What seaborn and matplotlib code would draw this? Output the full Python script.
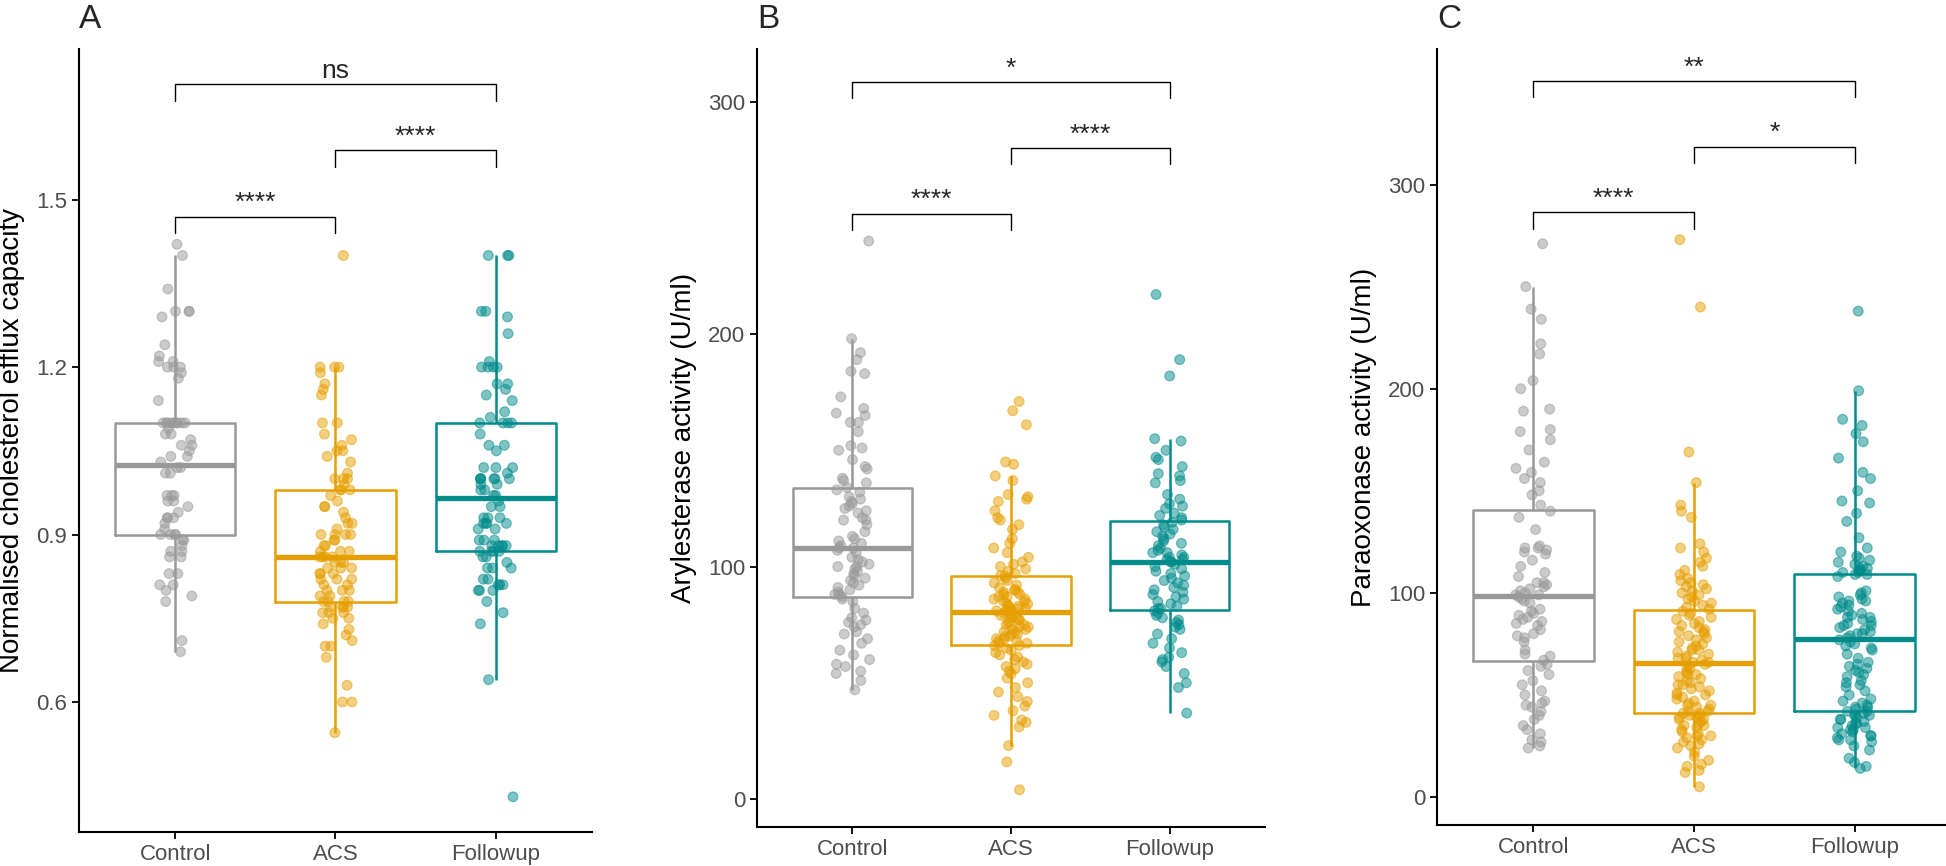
import numpy as np
import pandas as pd
import matplotlib
matplotlib.use('Agg')
import matplotlib.pyplot as plt
import seaborn as sns

# groups and colours
groups = ['Control', 'ACS', 'Followup']
palette = {'Control': '#999999', 'ACS': '#E69F00', 'Followup': '#008B8B'}

# Panel A - normalised cholesterol efflux capacity
efflux_control = [1.42, 1.40, 1.34, 1.30, 1.30, 1.30, 1.29, 1.24, 1.22, 1.21, 1.21, 1.20, 1.20, 1.20,
                  1.19, 1.18, 1.14, 1.10, 1.10, 1.10, 1.10, 1.10, 1.10, 1.10, 1.10, 1.10, 1.09, 1.08,
                  1.08, 1.07, 1.06, 1.06, 1.05, 1.04, 1.04, 1.03, 1.02, 1.02, 1.01, 1.01, 0.97, 0.97,
                  0.97, 0.96, 0.96, 0.95, 0.94, 0.93, 0.93, 0.93, 0.92, 0.91, 0.90, 0.90, 0.90, 0.90,
                  0.89, 0.89, 0.88, 0.87, 0.87, 0.86, 0.86, 0.83, 0.83, 0.81, 0.81, 0.80, 0.79, 0.78,
                  0.71, 0.69]
efflux_acs = [1.40, 1.20, 1.20, 1.20, 1.19, 1.17, 1.16, 1.15, 1.10, 1.10, 1.08, 1.07, 1.06, 1.05, 1.05,
              1.04, 1.03, 1.01, 1.00, 1.00, 1.00, 0.99, 0.98, 0.98, 0.98, 0.97, 0.96, 0.95, 0.95, 0.94,
              0.93, 0.92, 0.92, 0.91, 0.90, 0.90, 0.90, 0.90, 0.89, 0.89, 0.88, 0.88, 0.87, 0.87, 0.87,
              0.86, 0.86, 0.86, 0.86, 0.85, 0.85, 0.85, 0.84, 0.84, 0.84, 0.83, 0.83, 0.83, 0.82, 0.82,
              0.82, 0.81, 0.81, 0.80, 0.80, 0.80, 0.79, 0.79, 0.78, 0.78, 0.78, 0.78, 0.77, 0.77, 0.77,
              0.77, 0.76, 0.76, 0.76, 0.75, 0.75, 0.74, 0.73, 0.72, 0.71, 0.70, 0.70, 0.68, 0.63, 0.60,
              0.60, 0.545]
efflux_followup = [1.40, 1.40, 1.40, 1.30, 1.30, 1.29, 1.26, 1.21, 1.20, 1.20, 1.20, 1.20, 1.17, 1.17,
                   1.16, 1.15, 1.14, 1.12, 1.11, 1.10, 1.10, 1.10, 1.10, 1.08, 1.06, 1.06, 1.05, 1.02,
                   1.02, 1.02, 1.01, 1.00, 1.00, 1.00, 1.00, 1.00, 1.00, 0.99, 0.99, 0.98, 0.98, 0.97,
                   0.97, 0.96, 0.95, 0.95, 0.93, 0.93, 0.93, 0.92, 0.92, 0.92, 0.92, 0.91, 0.91, 0.89,
                   0.89, 0.89, 0.88, 0.88, 0.88, 0.88, 0.88, 0.87, 0.87, 0.87, 0.87, 0.86, 0.86, 0.85,
                   0.84, 0.84, 0.84, 0.82, 0.82, 0.81, 0.81, 0.81, 0.80, 0.80, 0.80, 0.78, 0.76, 0.74,
                   0.64, 0.43]

# Panel B - arylesterase activity (U/ml)
aryl_control = [240, 198, 192, 189, 184, 183, 173, 168, 166, 165, 162, 162, 158, 152, 151, 150, 146, 143,
                142, 138, 137, 136, 134, 133, 132, 130, 129, 128, 127, 126, 125, 124, 123, 121, 120, 120,
                118, 115, 113, 112, 111, 110, 109, 108, 108, 107, 106, 104, 103, 102, 101, 100, 100, 99,
                98, 97, 96, 95, 94, 93, 92, 91, 90, 89, 88, 88, 87, 86, 85, 82, 80, 78, 77, 76, 75, 74,
                72, 71, 69, 67, 64, 62, 60, 58, 57, 55, 54, 51, 47]
aryl_acs = [171, 167, 161, 145, 144, 139, 137, 131, 130, 129, 128, 124, 121, 120, 118, 116, 112, 110, 108,
            106, 104, 102, 101, 100, 99, 98, 97, 96, 96, 95, 94, 93, 92, 91, 90, 90, 89, 89, 88, 88, 87,
            87, 86, 86, 85, 85, 84, 84, 83, 83, 83, 82, 82, 82, 81, 81, 81, 80, 80, 79, 79, 78, 78, 77,
            77, 76, 76, 75, 75, 74, 74, 73, 73, 72, 72, 71, 71, 70, 70, 69, 69, 68, 68, 67, 67, 66, 66,
            65, 64, 63, 62, 61, 60, 59, 58, 57, 56, 55, 54, 52, 50, 48, 46, 44, 42, 40, 38, 36, 34, 33,
            31, 23, 16, 4]
aryl_followup = [217, 189, 182, 155, 154, 150, 147, 146, 143, 140, 139, 137, 136, 131, 129, 127, 126, 125,
                 123, 122, 121, 120, 119, 118, 117, 116, 115, 114, 113, 112, 111, 110, 109, 108, 107, 106,
                 106, 105, 104, 104, 103, 103, 102, 102, 101, 100, 99, 98, 97, 96, 95, 94, 93, 92, 91, 90,
                 89, 88, 87, 86, 85, 84, 83, 82, 82, 81, 80, 79, 78, 77, 76, 75, 74, 73, 71, 69, 67, 65,
                 63, 61, 60, 59, 57, 54, 50, 48, 37]

# Panel C - paraoxonase activity (U/ml)
paraox_control = [271, 250, 239, 234, 222, 217, 204, 200, 190, 189, 180, 179, 175, 170, 164, 161, 159, 156,
                  154, 150, 148, 143, 140, 137, 131, 123, 122, 122, 121, 120, 119, 116, 113, 110, 108, 105,
                  105, 104, 103, 102, 101, 100, 99, 99, 98, 97, 96, 95, 92, 91, 90, 89, 88, 87, 86, 85, 84,
                  82, 80, 79, 78, 76, 72, 70, 69, 67, 65, 64, 62, 60, 57, 55, 52, 50, 47, 46, 45, 44, 42,
                  40, 38, 35, 33, 31, 28, 27, 25, 24]
paraox_acs = [273, 240, 169, 154, 143, 140, 137, 124, 122, 120, 117, 115, 113, 111, 109, 107, 106, 105, 104,
              103, 102, 101, 100, 99, 98, 97, 96, 95, 94, 93, 92, 91, 90, 89, 88, 87, 86, 85, 84, 83, 82,
              81, 81, 80, 79, 78, 77, 76, 75, 74, 73, 72, 72, 71, 70, 69, 68, 68, 67, 66, 66, 65, 64, 63,
              62, 61, 60, 60, 59, 58, 57, 56, 55, 55, 54, 53, 52, 51, 50, 50, 49, 48, 47, 46, 45, 45, 44,
              43, 42, 42, 41, 41, 40, 40, 39, 39, 38, 38, 37, 36, 35, 35, 34, 33, 32, 31, 30, 30, 29, 28,
              27, 26, 25, 24, 22, 20, 18, 16, 15, 13, 12, 5]
paraox_followup = [238, 199, 185, 182, 178, 174, 166, 159, 156, 150, 145, 144, 139, 135, 127, 122, 120, 118,
                   117, 116, 115, 114, 113, 112, 112, 111, 111, 110, 110, 109, 109, 108, 101, 100, 99, 98,
                   97, 96, 96, 95, 94, 93, 92, 91, 90, 89, 88, 88, 87, 86, 85, 84, 84, 83, 82, 81, 80, 80,
                   79, 78, 77, 76, 75, 74, 73, 72, 70, 68, 66, 65, 64, 63, 62, 61, 60, 59, 57, 56, 55, 54,
                   52, 50, 48, 47, 46, 45, 44, 44, 43, 42, 42, 41, 40, 40, 40, 39, 38, 38, 37, 36, 36, 35,
                   34, 34, 33, 33, 32, 31, 30, 30, 29, 28, 28, 27, 25, 23, 19, 17, 15, 14]

# pairwise comparisons and significance labels
comparisons = [('Control', 'ACS'), ('ACS', 'Followup'), ('Control', 'Followup')]
efflux_signif = ['****', '****', 'ns']
aryl_signif = ['****', '****', '*']
paraox_signif = ['****', '*', '**']

ylabels = ['Normalised cholesterol efflux capacity', 'Arylesterase activity (U/ml)',
           'Paraoxonase activity (U/ml)']
letters = ['A', 'B', 'C']


def to_long(ctrl, acs, fu):
    return pd.DataFrame({
        'group': ['Control'] * len(ctrl) + ['ACS'] * len(acs) + ['Followup'] * len(fu),
        'value': ctrl + acs + fu,
    })


sns.set_style('ticks')
plt.rcParams['font.family'] = ['Liberation Sans', 'DejaVu Sans']
np.random.seed(3)

W, H = 1946, 866
fig = plt.figure(figsize=(W / 100, H / 100), dpi=100)

# axes boxes in pixels: left, right, top, bottom
boxes = [(79, 592, 49, 832), (757, 1265, 49, 827), (1437, 1951, 49, 825)]
ylims = [(0.367, 1.770), (-12, 322.6), (-13.7, 366.4)]
yticks = [[0.6, 0.9, 1.2, 1.5], [0, 100, 200, 300], [0, 100, 200, 300]]
ytick_labels = [['0.6', '0.9', '1.2', '1.5'], ['0', '100', '200', '300'], ['0', '100', '200', '300']]

panels = [
    (to_long(efflux_control, efflux_acs, efflux_followup), efflux_signif),
    (to_long(aryl_control, aryl_acs, aryl_followup), aryl_signif),
    (to_long(paraox_control, paraox_acs, paraox_followup), paraox_signif),
]

for i, (df, signif) in enumerate(panels):
    l, r, t, b = boxes[i]
    ax = fig.add_axes([l / W, 1 - b / H, (r - l) / W, (b - t) / H])

    sns.boxplot(data=df, x='group', y='value', hue='group', order=groups, hue_order=groups,
                palette=palette, fill=False, width=0.75, linewidth=1.8, showfliers=False,
                showcaps=False, medianprops={'linewidth': 3.8}, legend=False, ax=ax)
    sns.stripplot(data=df, x='group', y='value', hue='group', order=groups, hue_order=groups,
                  palette=palette, jitter=0.11, size=7, alpha=0.5, linewidth=0, legend=False,
                  ax=ax, zorder=3)
    # darker rim like ggplot's filled circles
    for coll in ax.collections:
        coll.set_edgecolors(coll.get_facecolors())
        coll.set_linewidth(0.9)

    ax.set_xlim(-0.6, 2.6)
    ax.set_ylim(*ylims[i])
    ax.set_yticks(yticks[i])
    ax.set_yticklabels(ytick_labels[i])
    ax.set_xlabel('')
    ax.set_ylabel(ylabels[i], fontsize=20, color='black', labelpad=8)

    for side in ['top', 'right']:
        ax.spines[side].set_visible(False)
    for side in ['left', 'bottom']:
        ax.spines[side].set_linewidth(1.5)
        ax.spines[side].set_color('black')
    ax.tick_params(labelsize=16, labelcolor='#4D4D4D', length=5, width=1.3, color='black')

    # significance brackets
    vals = df['value']
    rng = vals.max() - vals.min()
    y0 = vals.max() + 0.05 * rng
    step = 0.12 * rng
    tip = 0.03 * rng
    for k, ((g1, g2), lab) in enumerate(zip(comparisons, signif)):
        y = y0 + k * step
        x1, x2 = groups.index(g1), groups.index(g2)
        ax.plot([x1, x1, x2, x2], [y - tip, y, y, y - tip], color='black', lw=1.0,
                clip_on=False, zorder=4)
        ax.annotate(lab, ((x1 + x2) / 2, y), xytext=(0, 1), textcoords='offset points',
                    ha='center', va='bottom', fontsize=19)

    fig.text(l / W, 1 - 4 / H, letters[i], fontsize=24, ha='left', va='top')

fig.savefig('out.png', dpi=100)
